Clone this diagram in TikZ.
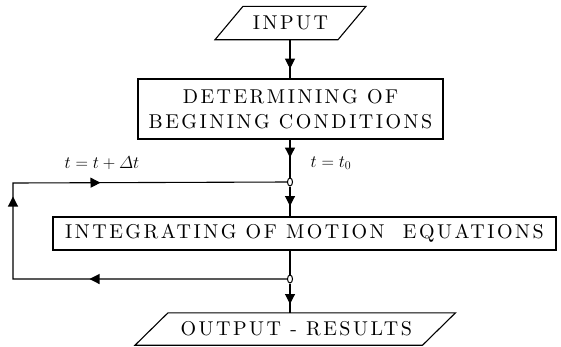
\documentclass[tikz,border=0pt]{standalone}
\usepackage{fontspec}
\usepackage{amsmath}
\newfontfamily\capsfont{lmroman10-regular.otf}[LetterSpace=12.5]
\usetikzlibrary{arrows.meta,decorations.markings,shapes.geometric}
\tikzset{
  ln/.style={line width=1.1pt},
  caps/.style={font=\capsfont\fontsize{20}{25}\selectfont, inner sep=0pt, align=center},
  procbox/.style={caps, draw, ln, rectangle},
  iotext/.style={caps},
  junc/.style={ellipse, draw, line width=1pt, fill=white, inner sep=0pt, minimum width=5pt, minimum height=8pt},
  mlabel/.style={font=\fontsize{17}{20}\selectfont, inner sep=0pt},
  ftip/.tip={Triangle[length=10pt,width=10pt]},
  arrowat/.style={postaction={decorate}, decoration={markings, mark=at position #1 with {\arrow{ftip}}}},
}
\begin{document}
\begin{tikzpicture}[x=1pt,y=-1pt]
\useasboundingbox (0,0) rectangle (561,346);
% input
\node[iotext, minimum height=33pt] (in) at (290.5,23) {INPUT};
\draw[ln] ([xshift=-47.5pt]in.north) -- ([xshift=75.5pt]in.north) -- ([xshift=47.5pt]in.south) -- ([xshift=-75.5pt]in.south) -- cycle;
% box 1
\node[procbox, minimum width=305pt, minimum height=60pt] (b1) at (290.5,109) {DETERMINING OF\\BEGINING CONDITIONS};
% junctions
\node[junc] (j1) at (290,182) {};
\node[junc] (j2) at (290,279) {};
% box 2
\node[procbox, minimum width=503pt, minimum height=33pt] (b2) at (304.5,233.5) {INTEGRATING OF MOTION\ \ EQUATIONS};
% output
\node[iotext, minimum height=32pt] (out) at (296.25,329) {OUTPUT - RESULTS};
\draw[ln] ([xshift=-128.25pt]out.north) -- ([xshift=159.25pt]out.north) -- ([xshift=126.25pt]out.south) -- ([xshift=-161.25pt]out.south) -- cycle;
% corners of feedback loop
\coordinate (c1) at (13,279);
\coordinate (c2) at (13,183);
% labels
\node[mlabel] (l0) at (331,163) {$t=t_0$};
\node[mlabel] (l1) at (102,163) {$t=t+\varDelta t$};
% connectors
\draw[ln, arrowat=29pt] (j1 |- in.south) -- (j1 |- b1.north);
\draw[ln, arrowat=18pt] (j1 |- b1.south) -- (j1);
\draw[ln, arrowat=19.5pt] (j1) -- (j1 |- b2.north);
\draw[ln] (j2 |- b2.south) -- (j2);
\draw[ln, arrowat=20.5pt] (j2) -- (j2 |- out.north);
\draw[ln, postaction={decorate}, decoration={markings,
    mark=at position 197.5pt with {\arrow{ftip}},
    mark=at position 356.5pt with {\arrow{ftip}},
    mark=at position 457.5pt with {\arrow{ftip}}}]
  (j2.west) -- (c1) -- (c2) -- (j1.west);
\end{tikzpicture}
\end{document}
